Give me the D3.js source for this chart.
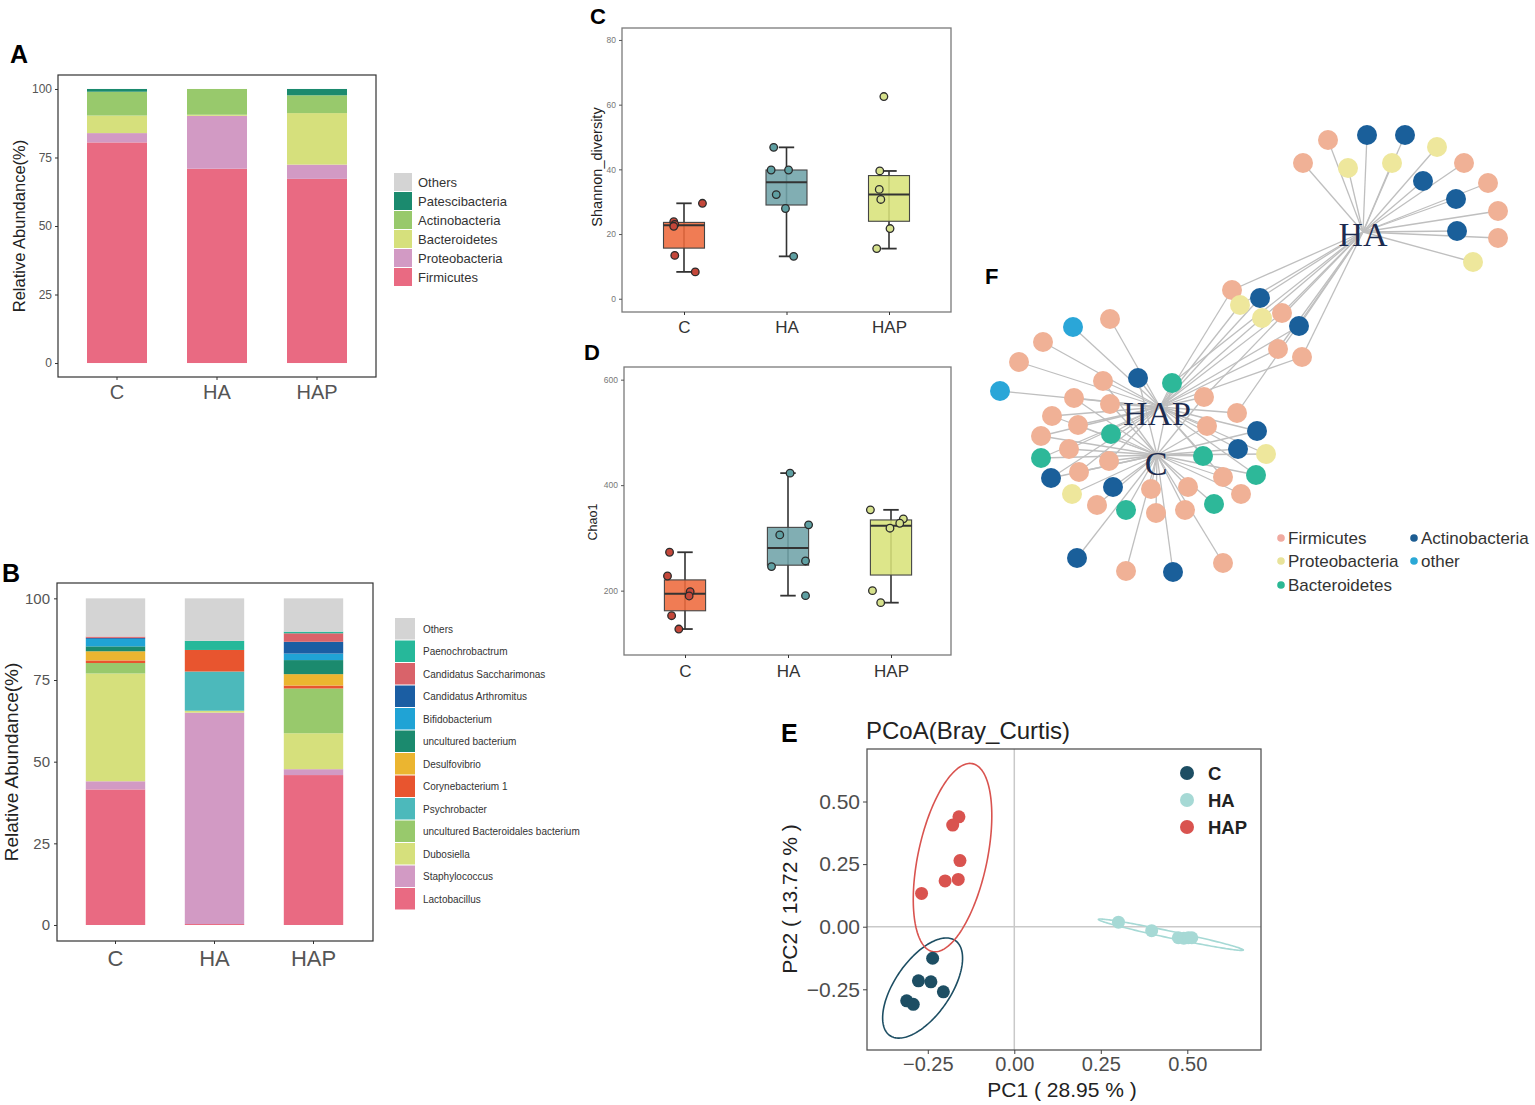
<!DOCTYPE html>
<html><head><meta charset="utf-8">
<script src="https://cdn.jsdelivr.net/npm/d3@7"></script>
<style>
body{margin:0;background:#fff;}
svg{display:block;font-family:Arial,"Liberation Sans",sans-serif;}
</style>
</head><body>
<svg id="fig" width="1535" height="1105"></svg>
<script>
// ---------------- DATA ----------------
const groups = ["C", "HA", "HAP"];
const yTicksAB = [0, 25, 50, 75, 100];

// Panel A: phylum level relative abundance (%)
const phylaA = ["Firmicutes", "Proteobacteria", "Bacteroidetes", "Actinobacteria", "Patescibacteria", "Others"];
const phylaAColors = ["#e96a82", "#d29ac4", "#d6e07c", "#98c96c", "#1b8a6e", "#d4d4d4"];
const abundA_C = [80.5, 3.4, 6.4, 8.7, 1.0, 0];
const abundA_HA = [70.9, 19.3, 0.4, 9.4, 0, 0];
const abundA_HAP = [67.2, 5.2, 18.8, 6.5, 2.3, 0];

// Panel B: genus level relative abundance (%)
const generaB = ["Lactobacillus", "Staphylococcus", "Dubosiella", "uncultured Bacteroidales bacterium",
  "Psychrobacter", "Corynebacterium 1", "Desulfovibrio", "uncultured bacterium", "Bifidobacterium",
  "Candidatus Arthromitus", "Candidatus Saccharimonas", "Paenochrobactrum", "Others"];
const generaBColors = ["#e96a82", "#d29ac4", "#d6e07c", "#98c96c", "#4cb9bb", "#e8552f", "#ebb530",
  "#1b8a6e", "#20a3d5", "#1b5ea3", "#d9636a", "#26b89a", "#d4d4d4"];
const abundB_C = [41.5, 2.5, 33.0, 3.2, 0, 0.8, 2.8, 1.5, 2.3, 0.3, 0.4, 0, 11.7];
const abundB_HA = [0.3, 64.7, 0.6, 0, 12.0, 6.6, 0, 0, 0, 0, 0, 2.8, 13.0];
const abundB_HAP = [45.9, 1.8, 11.0, 13.7, 0, 0.9, 3.5, 4.3, 2.0, 3.6, 2.6, 0.5, 10.2];

// Panel C: Shannon diversity per sample
const shannonC = [29.5, 23.8, 23.0, 22.4, 13.4, 8.3];
const shannonHA = [46.8, 39.8, 39.8, 32.2, 27.9, 13.1];
const shannonHAP = [62.5, 39.5, 33.8, 30.7, 21.7, 15.5];
const shannonJitter = [[0.18, -0.10, -0.09, -0.10, -0.09, 0.11],
                       [-0.125, -0.15, 0.02, -0.10, -0.01, 0.07],
                       [-0.05, -0.09, -0.095, -0.08, 0.01, -0.12]];
const shannonTicks = [0, 20, 40, 60, 80];

// Panel D: Chao1 per sample
const chaoC = [272.8, 227.8, 198.1, 189.9, 152.5, 127.2];
const chaoHA = [422.8, 324.7, 305.7, 256.3, 245.6, 190.5];
const chaoHAP = [353.2, 336.1, 327.8, 318.4, 200.0, 177.2];
const chaoJitter = [[-0.15, -0.17, 0.05, 0.04, -0.13, -0.06],
                    [0.02, 0.20, -0.08, 0.17, -0.16, 0.17],
                    [-0.20, 0.12, 0.085, -0.01, -0.18, -0.10]];
const chaoTicks = [200, 400, 600];
const boxColors = ["#ee6a3c", "#6fa3a8", "#d8e27a"];
const pointColors = ["#c4473a", "#5e9fa2", "#d6e18c"];

// Panel E: PCoA coordinates
const pcoaC_x = [-0.236, -0.277, -0.241, -0.205, -0.311, -0.292];
const pcoaC_y = [-0.126, -0.216, -0.220, -0.260, -0.296, -0.310];
const pcoaHA_x = [0.301, 0.397, 0.474, 0.490, 0.503, 0.513];
const pcoaHA_y = [0.018, -0.016, -0.044, -0.046, -0.044, -0.044];
const pcoaHAP_x = [-0.160, -0.178, -0.157, -0.200, -0.162, -0.268];
const pcoaHAP_y = [0.439, 0.406, 0.264, 0.183, 0.189, 0.133];
// confidence ellipses: centre x, centre y, and Cholesky factor (a, b, c) in data units
const ellipseC = [-0.265, -0.245, 0.1155, 0.119, 0.1607];
const ellipseHA = [0.4525, -0.032, 0.2095, -0.061, 0.014];
const ellipseHAP = [-0.1785, 0.276, 0.1135, 0.167, 0.337];
const pcoaColors = ["#1d4e63", "#a6d9d5", "#d9534f"];
const pcoaTicks = [-0.25, 0, 0.25, 0.5];

// Panel F: co-occurrence network (layout units), phylum, hubs linked
const netPhyla = ["Firmicutes", "Actinobacteria", "Proteobacteria", "other", "Bacteroidetes"];
const netColors = ["#f0b196", "#1a5f9a", "#eee79c", "#2aa6d8", "#2db899"];
const legendDotColors = ["#f0aaa0", "#1d5d92", "#e8e39a", "#2aa8d6", "#2ab894"];
const hubNames = ["HA", "HAP", "C"];
const hubLayout = [[383, 122], [180, 297], [177, 345]];
const netNodes = [
  ["Firmicutes",323,53,"HA"],["Firmicutes",348,30,"HA"],["Proteobacteria",368,58,"HA"],
  ["Actinobacteria",387,25,"HA"],["Actinobacteria",425,25,"HA"],["Proteobacteria",412,53,"HA"],
  ["Proteobacteria",457,37,"HA"],["Actinobacteria",443,71,"HA"],["Firmicutes",484,53,"HA"],
  ["Firmicutes",508,73,"HA"],["Actinobacteria",476,89,"HA"],["Firmicutes",518,101,"HA"],
  ["Actinobacteria",477,121,"HA"],["Firmicutes",518,128,"HA"],["Proteobacteria",493,152,"HA"],
  ["Firmicutes",252,180,"HA,HAP"],["Actinobacteria",280,188,"HA,HAP"],["Proteobacteria",260,195,"HA,HAP"],
  ["Proteobacteria",282,208,"HA,HAP"],["Firmicutes",302,203,"HA,HAP"],["Actinobacteria",319,216,"HA,HAP"],
  ["Firmicutes",298,239,"HA,HAP"],["Firmicutes",322,247,"HA,HAP"],
  ["other",93,217,"HAP"],["Firmicutes",130,209,"HAP"],["Firmicutes",63,232,"HAP"],
  ["Firmicutes",39,252,"HAP"],["other",20,281,"HAP"],
  ["Firmicutes",123,271,"HAP,C"],["Actinobacteria",158,268,"HAP,C"],["Bacteroidetes",192,273,"HA,HAP,C"],
  ["Firmicutes",94,288,"HAP,C"],["Firmicutes",130,294,"HAP,C"],["Firmicutes",224,287,"HA,HAP,C"],
  ["Firmicutes",72,306,"HAP,C"],["Firmicutes",257,303,"HA,HAP"],["Firmicutes",98,315,"HAP,C"],
  ["Firmicutes",61,326,"HAP,C"],["Bacteroidetes",131,324,"HAP,C"],["Firmicutes",227,316,"HAP,C"],
  ["Actinobacteria",277,321,"HAP,C"],["Firmicutes",89,339,"HAP,C"],["Bacteroidetes",61,348,"HAP,C"],
  ["Actinobacteria",258,339,"HAP,C"],["Proteobacteria",286,344,"HAP,C"],["Bacteroidetes",223,346,"HAP,C"],
  ["Firmicutes",129,351,"HAP,C"],["Actinobacteria",71,368,"HAP,C"],["Firmicutes",99,362,"HAP,C"],
  ["Firmicutes",243,367,"HAP,C"],["Bacteroidetes",276,365,"HAP,C"],
  ["Proteobacteria",92,384,"C"],["Actinobacteria",133,377,"C"],["Firmicutes",171,379,"C"],
  ["Firmicutes",208,377,"C"],["Firmicutes",261,384,"C"],["Firmicutes",117,395,"C"],
  ["Bacteroidetes",146,400,"C"],["Firmicutes",176,403,"C"],["Firmicutes",205,400,"C"],
  ["Bacteroidetes",234,394,"C"],["Actinobacteria",97,448,"C"],["Firmicutes",146,461,"C"],
  ["Actinobacteria",193,462,"C"],["Firmicutes",243,453,"C"]
];
const legendF = ["Firmicutes", "Proteobacteria", "Bacteroidetes", "Actinobacteria", "other"];

// ---------------- DRAWING ----------------
const svg = d3.select("#fig");
const FONT = "Arial, 'Liberation Sans', sans-serif";

function panelLabel(x, y, t, size) {
  svg.append("text").attr("x", x).attr("y", y).attr("font-size", size)
    .attr("font-weight", "bold").attr("fill", "#000").text(t);
}
function frame(g, r, color, w) {
  g.append("rect").attr("x", r.x0).attr("y", r.y0).attr("width", r.x1 - r.x0)
    .attr("height", r.y1 - r.y0).attr("fill", "none").attr("stroke", color).attr("stroke-width", w);
}
function styleAxis(a, size, color, tickColor) {
  a.attr("font-family", FONT).attr("font-size", size);
  a.select(".domain").remove();
  a.selectAll("text").attr("fill", color);
  a.selectAll("line").attr("stroke", tickColor);
}
function yTitle(x, y, t, size) {
  svg.append("text").attr("transform", `translate(${x},${y}) rotate(-90)`)
    .attr("text-anchor", "middle").attr("font-size", size).attr("fill", "#222").text(t);
}

// ---- stacked bar panels ----
function stackedPanel(cfg) {
  const g = svg.append("g");
  const r = cfg.rect;
  const x = d3.scaleBand().domain(groups).range(cfg.xRange).paddingInner(0.4).paddingOuter(0.2);
  const y = d3.scaleLinear().domain(cfg.yDomain).range([r.y1, r.y0]);
  const rows = groups.map((grp, i) => {
    const o = { group: grp };
    cfg.keys.forEach((k, j) => o[k] = cfg.values[i][j]);
    return o;
  });
  const series = d3.stack().keys(cfg.keys)(rows);
  g.selectAll("g.s").data(series).join("g").attr("class", "s")
    .attr("fill", (d, i) => cfg.colors[i])
    .selectAll("rect").data(d => d).join("rect")
    .attr("x", d => x(d.data.group)).attr("width", x.bandwidth())
    .attr("y", d => y(d[1])).attr("height", d => Math.max(0, y(d[0]) - y(d[1])));
  frame(g, r, "#333", 1.2);
  const ya = g.append("g").attr("transform", `translate(${r.x0},0)`)
    .call(d3.axisLeft(y).tickValues(yTicksAB).tickSize(3).tickPadding(cfg.yPad));
  styleAxis(ya, cfg.yFont, "#555", "#333");
  const xa = g.append("g").attr("transform", `translate(0,${r.y1})`)
    .call(d3.axisBottom(x).tickSize(3).tickPadding(cfg.xPad));
  styleAxis(xa, cfg.xFont, "#555", "#333");
  yTitle(cfg.titleX, (r.y0 + r.y1) / 2, "Relative Abundance(%)", cfg.titleFont);
  // legend (reverse order: last key on top)
  const lg = g.append("g");
  const keysRev = cfg.keys.slice().reverse();
  const colRev = cfg.colors.slice().reverse();
  keysRev.forEach((k, i) => {
    lg.append("rect").attr("x", cfg.leg.x).attr("y", cfg.leg.y + i * cfg.leg.h)
      .attr("width", cfg.leg.w).attr("height", cfg.leg.h - 1).attr("fill", colRev[i]);
    lg.append("text").attr("x", cfg.leg.x + cfg.leg.w + cfg.leg.gap)
      .attr("y", cfg.leg.y + i * cfg.leg.h + cfg.leg.h / 2).attr("dy", "0.35em")
      .attr("font-size", cfg.leg.font).attr("fill", "#333").text(k);
  });
}

stackedPanel({
  rect: { x0: 58, x1: 376, y0: 75, y1: 377 }, yDomain: [-5.1, 105.1], xRange: [67, 367],
  keys: phylaA, colors: phylaAColors, values: [abundA_C, abundA_HA, abundA_HAP],
  yPad: 3, xPad: 5, yFont: 12, xFont: 20, titleX: 25, titleFont: 16.5,
  leg: { x: 394, y: 173, w: 18, h: 19, gap: 6, font: 13 }
});
stackedPanel({
  rect: { x0: 57, x1: 373, y0: 583, y1: 941 }, yDomain: [-4.9, 104.7], xRange: [66, 363],
  keys: generaB, colors: generaBColors, values: [abundB_C, abundB_HA, abundB_HAP],
  yPad: 4, xPad: 6.5, yFont: 15, xFont: 22, titleX: 18, titleFont: 19,
  leg: { x: 395, y: 618, w: 20, h: 22.5, gap: 8, font: 10 }
});

// ---- box plot panels ----
function boxPanel(cfg) {
  const g = svg.append("g");
  const r = cfg.rect;
  const x = d3.scalePoint().domain(groups).range(cfg.xRange);
  const y = d3.scaleLinear().domain(cfg.yDomain).range([r.y1, r.y0]);
  const step = x.step();
  const bw = 0.4 * step, cw = 0.15 * step;
  groups.forEach((grp, i) => {
    const vals = cfg.values[i].slice().sort(d3.ascending);
    const q1 = d3.quantile(vals, 0.25), med = d3.quantile(vals, 0.5), q3 = d3.quantile(vals, 0.75);
    const iqr = q3 - q1;
    const lo = d3.min(vals.filter(v => v >= q1 - 1.5 * iqr));
    const hi = d3.max(vals.filter(v => v <= q3 + 1.5 * iqr));
    const cx = x(grp);
    const line = (x1, y1, x2, y2, w) => g.append("line").attr("x1", x1).attr("y1", y1)
      .attr("x2", x2).attr("y2", y2).attr("stroke", "#333").attr("stroke-width", w);
    line(cx, y(lo), cx, y(hi), 1.6);
    line(cx - cw / 2, y(lo), cx + cw / 2, y(lo), 1.8);
    line(cx - cw / 2, y(hi), cx + cw / 2, y(hi), 1.8);
    g.append("rect").attr("x", cx - bw / 2).attr("width", bw).attr("y", y(q3))
      .attr("height", y(q1) - y(q3)).attr("fill", boxColors[i]).attr("fill-opacity", 0.88)
      .attr("stroke", "#444").attr("stroke-width", 1.1);
    line(cx - bw / 2, y(med), cx + bw / 2, y(med), 2);
    g.selectAll(null).data(cfg.values[i]).join("circle")
      .attr("cx", (d, j) => cx + cfg.jitter[i][j] * step).attr("cy", d => y(d)).attr("r", 3.8)
      .attr("fill", pointColors[i]).attr("stroke", "#2b2b2b").attr("stroke-width", 1.3);
  });
  frame(g, r, "#7a7a7a", 1.3);
  const ya = g.append("g").attr("transform", `translate(${r.x0},0)`)
    .call(d3.axisLeft(y).tickValues(cfg.ticks).tickSize(3).tickPadding(3));
  styleAxis(ya, 8.5, "#777", "#555");
  const xa = g.append("g").attr("transform", `translate(0,${r.y1})`)
    .call(d3.axisBottom(x).tickSize(3).tickPadding(cfg.xPad));
  styleAxis(xa, 17, "#333", "#333");
  yTitle(cfg.titleX, cfg.titleY, cfg.title, cfg.titleFont);
}

boxPanel({
  rect: { x0: 622, x1: 951, y0: 28, y1: 312 }, yDomain: [-4.1, 83.7], xRange: [684, 889],
  values: [shannonC, shannonHA, shannonHAP], jitter: shannonJitter, ticks: shannonTicks,
  xPad: 5.5, title: "Shannon_diversity", titleX: 602, titleY: 167, titleFont: 14.5
});
boxPanel({
  rect: { x0: 624, x1: 951, y0: 367, y1: 655 }, yDomain: [78, 624], xRange: [685, 891],
  values: [chaoC, chaoHA, chaoHAP], jitter: chaoJitter, ticks: chaoTicks,
  xPad: 6.5, title: "Chao1", titleX: 597, titleY: 522, titleFont: 12.5
});

// ---- PCoA panel ----
(function () {
  const g = svg.append("g");
  const r = { x0: 867, x1: 1261, y0: 749, y1: 1050 };
  const x = d3.scaleLinear().domain([-0.4257, 0.713]).range([r.x0, r.x1]);
  const y = d3.scaleLinear().domain([-0.4924, 0.7097]).range([r.y1, r.y0]);
  g.append("line").attr("x1", x(0)).attr("x2", x(0)).attr("y1", r.y0).attr("y2", r.y1)
    .attr("stroke", "#c9c9c9").attr("stroke-width", 1.5);
  g.append("line").attr("x1", r.x0).attr("x2", r.x1).attr("y1", y(0)).attr("y2", y(0))
    .attr("stroke", "#c9c9c9").attr("stroke-width", 1.5);
  const ell = [ellipseC, ellipseHA, ellipseHAP];
  const xs = [pcoaC_x, pcoaHA_x, pcoaHAP_x], ys = [pcoaC_y, pcoaHA_y, pcoaHAP_y];
  const ts = d3.range(0, 2 * Math.PI + 0.001, Math.PI / 90);
  ell.forEach((e, i) => {
    const pts = ts.map(t => [x(e[0] + e[2] * Math.cos(t)), y(e[1] + e[3] * Math.cos(t) + e[4] * Math.sin(t))]);
    g.append("path").attr("d", d3.line()(pts) + "Z").attr("fill", "none")
      .attr("stroke", pcoaColors[i]).attr("stroke-width", 1.6);
  });
  xs.forEach((arr, i) => {
    g.selectAll(null).data(arr).join("circle")
      .attr("cx", d => x(d)).attr("cy", (d, j) => y(ys[i][j])).attr("r", 6.5)
      .attr("fill", pcoaColors[i]);
  });
  frame(g, r, "#555", 1.3);
  const fmt = d3.format(".2f");
  const ya = g.append("g").attr("transform", `translate(${r.x0},0)`)
    .call(d3.axisLeft(y).tickValues(pcoaTicks).tickFormat(fmt).tickSize(4).tickPadding(3));
  styleAxis(ya, 21, "#4d4d4d", "#444");
  const xa = g.append("g").attr("transform", `translate(0,${r.y1})`)
    .call(d3.axisBottom(x).tickValues(pcoaTicks).tickFormat(fmt).tickSize(4).tickPadding(3));
  styleAxis(xa, 20, "#4d4d4d", "#444");
  svg.append("text").attr("x", (r.x0 + r.x1) / 2 - 2).attr("y", 1097).attr("text-anchor", "middle")
    .attr("font-size", 21).attr("fill", "#222").text("PC1 ( 28.95 % )");
  yTitle(797, 899, "PC2 ( 13.72 % )", 21);
  svg.append("text").attr("x", 866).attr("y", 739).attr("font-size", 24).attr("fill", "#222")
    .text("PCoA(Bray_Curtis)");
  groups.forEach((grp, i) => {
    const ly = 773 + i * 27;
    g.append("circle").attr("cx", 1187).attr("cy", ly).attr("r", 7).attr("fill", pcoaColors[i]);
    g.append("text").attr("x", 1208).attr("y", ly).attr("dy", "0.36em").attr("font-size", 18.5)
      .attr("font-weight", "bold").attr("fill", "#222").text(grp);
  });
})();

// ---- Network panel ----
(function () {
  const g = svg.append("g");
  const x = d3.scaleLinear().domain([0, 555]).range([980, 1535]);
  const y = d3.scaleLinear().domain([0, 490]).range([110, 600]);
  const colorOf = d3.scaleOrdinal().domain(netPhyla).range(netColors);
  const hubPos = {};
  hubNames.forEach((h, i) => hubPos[h] = hubLayout[i]);
  const links = [];
  netNodes.forEach(n => n[3].split(",").forEach(h => links.push([n, hubPos[h]])));
  g.selectAll(null).data(links).join("line")
    .attr("x1", d => x(d[0][1])).attr("y1", d => y(d[0][2]))
    .attr("x2", d => x(d[1][0])).attr("y2", d => y(d[1][1]))
    .attr("stroke", "#bfbfbf").attr("stroke-width", 1.3);
  g.selectAll(null).data(netNodes).join("circle")
    .attr("cx", d => x(d[1])).attr("cy", d => y(d[2])).attr("r", 10)
    .attr("fill", d => colorOf(d[0]));
  const hubFont = "'Liberation Serif', 'DejaVu Serif', serif";
  [["HA", 0, 14, 0], ["HAP", 1, 18, -3], ["C", 2, 20, -1]].forEach(([t, i, dy, dx]) => {
    g.append("text").attr("x", x(hubLayout[i][0]) + dx)
      .attr("y", y(hubLayout[i][1]) + dy)
      .attr("text-anchor", "middle").attr("font-family", hubFont).attr("font-size", 34)
      .attr("fill", "#1c2b4f").text(t);
  });
  // legend
  const legPos = [[1281, 538], [1281, 561], [1281, 585], [1414, 538], [1414, 561]];
  const legColor = d3.scaleOrdinal().domain(netPhyla).range(legendDotColors);
  legendF.forEach((k, i) => {
    g.append("circle").attr("cx", legPos[i][0]).attr("cy", legPos[i][1]).attr("r", 3.8).attr("fill", legColor(k));
    g.append("text").attr("x", legPos[i][0] + 7).attr("y", legPos[i][1]).attr("dy", "0.36em")
      .attr("font-size", 17).attr("fill", "#333").text(k);
  });
})();

// panel letters
panelLabel(10, 63, "A", 25);
panelLabel(2, 582, "B", 25);
panelLabel(590, 24, "C", 22);
panelLabel(584, 360, "D", 22);
panelLabel(781, 742, "E", 25);
panelLabel(985, 284, "F", 22);
</script>
</body></html>
